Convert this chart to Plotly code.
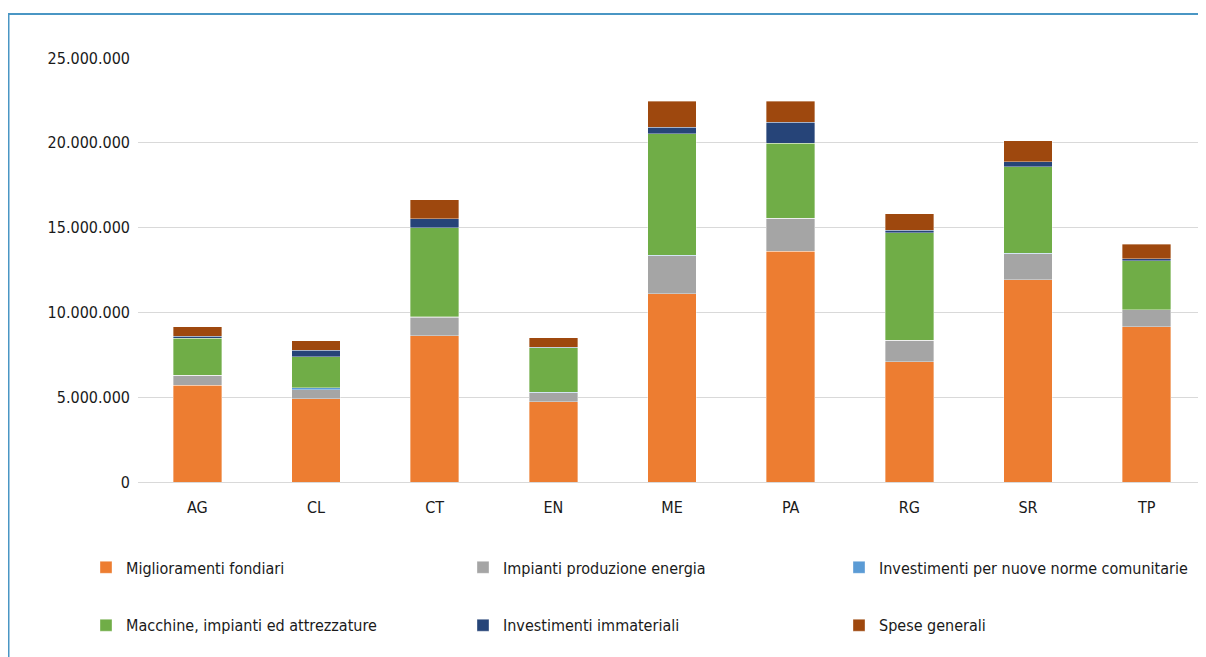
import plotly.graph_objects as go

provinces = ["AG", "CL", "CT", "EN", "ME", "PA", "RG", "SR", "TP"]

miglioramenti_fondiari = [5700000, 4900000, 8610000, 4730000, 11090000, 13600000, 7080000, 11930000, 9160000]
impianti_energia = [580000, 530000, 1100000, 540000, 2260000, 1950000, 1280000, 1530000, 990000]
nuove_norme = [20000, 140000, 20000, 10000, 20000, 10000, 10000, 20000, 10000]
macchine_impianti = [2170000, 1810000, 5250000, 2650000, 7150000, 4400000, 6330000, 5110000, 2890000]
investimenti_immateriali = [120000, 390000, 530000, 30000, 390000, 1240000, 140000, 280000, 120000]
spese_generali = [570000, 570000, 1120000, 540000, 1550000, 1260000, 980000, 1240000, 840000]

series_names = [
    "Miglioramenti fondiari",
    "Impianti produzione energia",
    "Investimenti per nuove norme comunitarie",
    "Macchine, impianti ed attrezzature",
    "Investimenti immateriali",
    "Spese generali",
]
series_values = [miglioramenti_fondiari, impianti_energia, nuove_norme,
                 macchine_impianti, investimenti_immateriali, spese_generali]
series_colors = ["#ED7D31", "#A5A5A5", "#5B9BD5", "#70AD47", "#264478", "#9E480E"]

FONT = "DejaVu Sans Condensed, DejaVu Sans, sans-serif"
FS = 16

# page offset (browser body margin)
O = 8
W, H = 1206 - O, 657 - O
L, R, T, B = 138 - O, 0, 58 - O, 657 - 482.5
pw, ph = W - L - R, H - T - B


def px(x):
    return (x - O - L) / pw


def py(y):
    return (H - B - (y - O)) / ph


legend_ids = ["legend", "legend2", "legend3", "legend4", "legend5", "legend6"]
legend_pos = [(86, 568), (463, 568), (839, 568), (86, 626), (463, 626), (839, 626)]

fig = go.Figure()
for name, vals, color, lid in zip(series_names, series_values, series_colors, legend_ids):
    fig.add_trace(go.Bar(
        x=provinces, y=vals, name=name, legend=lid, showlegend=True,
        marker=dict(color=color, line=dict(color="rgba(255,255,255,0.6)", width=0.6)),
        width=0.41,
    ))

legend_layout = {}
for lid, (lx, ly) in zip(legend_ids, legend_pos):
    legend_layout[lid] = dict(
        orientation="v", x=px(lx), y=py(ly), xanchor="left", yanchor="middle",
        traceorder="normal", font=dict(family=FONT, size=FS, color="#1a1a1a"),
        bgcolor="rgba(0,0,0,0)", itemclick=False, itemdoubleclick=False,
    )

fig.update_layout(
    width=W, height=H,
    showlegend=True,
    margin=dict(l=L, r=R, t=T, b=B, pad=0),
    barmode="stack",
    separators=",.",
    paper_bgcolor="white",
    plot_bgcolor="white",
    font=dict(family=FONT, size=FS, color="#1a1a1a"),
    xaxis=dict(showgrid=False, showline=False, ticks="", tickfont=dict(size=FS),
               ticklabelstandoff=14),
    yaxis=dict(range=[0, 25000000], dtick=5000000, tickformat=",d",
               showgrid=True, gridcolor="#d9d9d9", gridwidth=1,
               zeroline=True, zerolinecolor="#d9d9d9", zerolinewidth=1,
               ticks="", tickfont=dict(size=FS), ticklabelstandoff=7),
    shapes=[
        dict(type="line", xref="paper", yref="paper", x0=px(7), x1=px(1220), y0=py(14), y1=py(14),
             line=dict(color="#4A96C4", width=2)),
        dict(type="line", xref="paper", yref="paper", x0=px(8.5), x1=px(8.5), y0=py(14), y1=py(680),
             line=dict(color="#4A96C4", width=2)),
    ],
    **legend_layout,
)

fig.write_html("out.html")
